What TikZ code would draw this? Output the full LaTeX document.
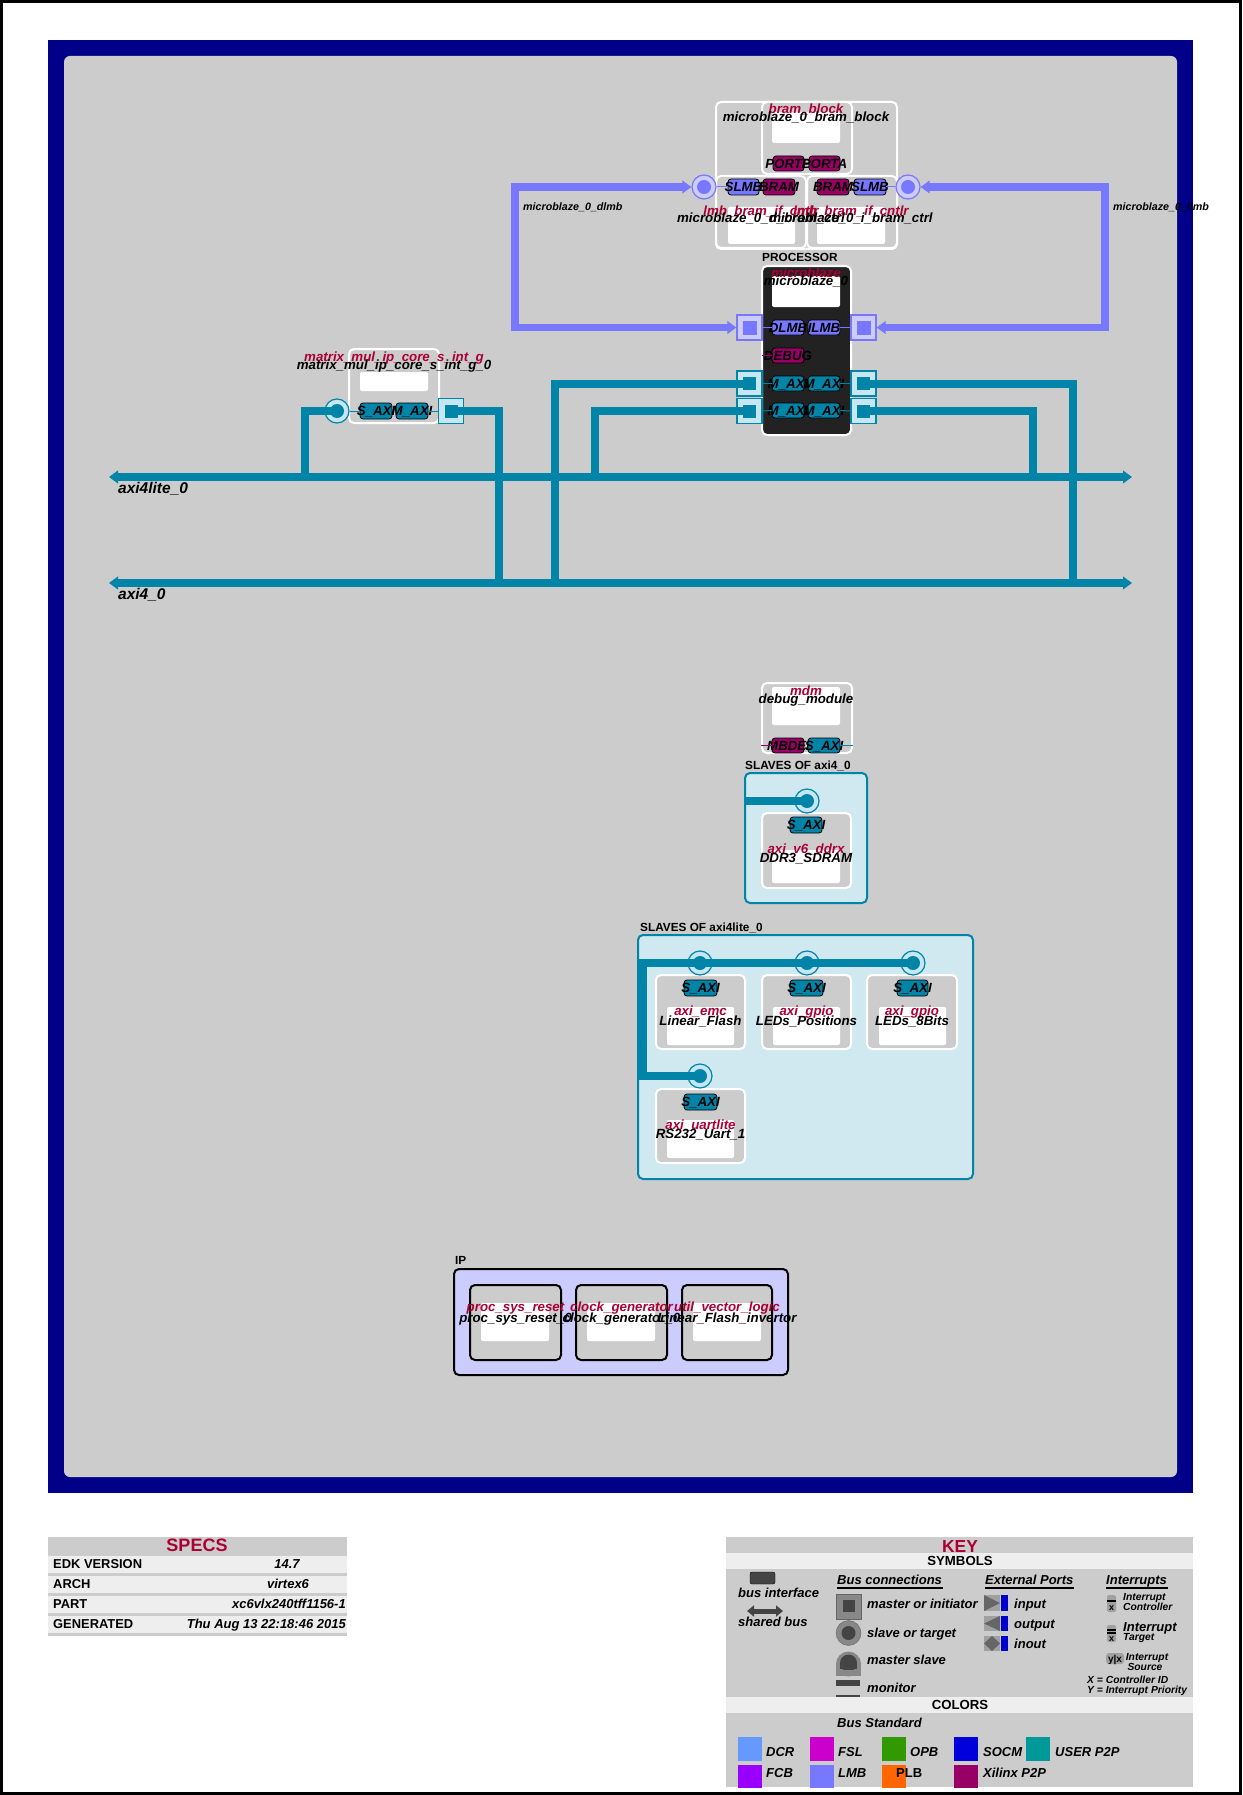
\documentclass[tikz,border=0pt]{standalone}
\usepackage{fontspec}
\setmainfont{Liberation Sans}
\usetikzlibrary{arrows.meta}
\definecolor{navy}{HTML}{000088}
\definecolor{bgray}{HTML}{CCCCCC}
\definecolor{axi}{HTML}{0084A8}
\definecolor{conlt}{HTML}{C6E6F2}
\definecolor{slvbg}{HTML}{D0E8F0}
\definecolor{lmb}{HTML}{7777FF}
\definecolor{lmblt}{HTML}{CCCCFF}
\definecolor{xptp}{HTML}{990066}
\definecolor{xred}{HTML}{AA0033}
\definecolor{procbg}{HTML}{222222}
\definecolor{ipbg}{HTML}{CCCCFF}
\definecolor{lightrow}{HTML}{EEEEEE}
\definecolor{kdark}{HTML}{444444}
\definecolor{kmid}{HTML}{666666}
\definecolor{kgray}{HTML}{888888}
\definecolor{kgrayb}{HTML}{A0A0A0}
\definecolor{kblue}{HTML}{0000CC}
\definecolor{cDCR}{HTML}{6699FF}
\definecolor{cFSL}{HTML}{CC00CC}
\definecolor{cOPB}{HTML}{339900}
\definecolor{cSOCM}{HTML}{0000DD}
\definecolor{cUSER}{HTML}{009999}
\definecolor{cFCB}{HTML}{9900FF}
\definecolor{cPLB}{HTML}{FF6600}
\newcommand\fsz[1]{\fontsize{#1}{#1}\selectfont}
\newcommand\rbox[6]{\path (#2,#3) -- (#4,#5) node[midway,inner sep=0,#6,minimum width={#4-#2},minimum height={#5-#3}] (#1) {};}
\newcommand\bif[7]{\rbox{#1}{#2}{#3}{#4}{#5}{bifbox,fill=#6}\node[biflbl] (#1t) at ([yshift=-4.8pt]#1.center) {#7};}
\tikzset{
  bt/.tip={Triangle[length=9pt,width=12.5pt]},
  bifbox/.style={draw=black,line width=0.8,rounded corners=3},
  biflbl/.style={anchor=base,inner sep=0,font=\bfseries\itshape\fsz{13.3}},
  blk/.style={draw=white,line width=2,fill=bgray,rounded corners=5},
  ipblk/.style={draw=black,line width=2,fill=bgray,rounded corners=5},
  wht/.style={fill=white,rounded corners=2},
  slvbox/.style={draw=axi,line width=2,fill=slvbg,rounded corners=5},
  ipbox/.style={draw=black,line width=2,fill=ipbg,rounded corners=5},
  tname/.style={anchor=base,inner sep=0,text=xred,font=\bfseries\itshape\fsz{13.3}},
  iname/.style={anchor=base,inner sep=0,text=black,font=\bfseries\itshape\fsz{13.3}},
  grp/.style={anchor=base west,inner sep=0,font=\bfseries\fsz{11.8}},
  buslbl/.style={anchor=base west,inner sep=0,font=\bfseries\itshape\fsz{15.5}},
  lmblbl/.style={anchor=base west,inner sep=0,font=\bfseries\itshape\fsz{10.7}},
  axiw/.style={draw=axi,line width=8,line join=miter},
  lmbw/.style={draw=lmb,line width=7.5,line join=miter},
  scon/.style={circle,minimum size=24,inner sep=0,fill=conlt,draw=axi,line width=1.2},
  mcon/.style={rectangle,minimum size=25,inner sep=0,fill=conlt,draw=axi,line width=1.2},
  lscon/.style={circle,minimum size=24,inner sep=0,fill=lmblt,draw=lmb,line width=1.2},
  lmcon/.style={rectangle,minimum size=25,inner sep=0,fill=lmblt,draw=lmb,line width=1.2},
  mdot/.style={rectangle,minimum size=13,inner sep=0,fill=axi},
  lmdot/.style={rectangle,minimum size=14,inner sep=0,fill=lmb},
  thinaxi/.style={draw=axi,line width=1},
  thinlmb/.style={draw=lmb,line width=1},
  thinxp/.style={draw=xptp,line width=1},
  kt/.style={anchor=base west,inner sep=0,font=\bfseries\itshape\fsz{13}},
  kts/.style={anchor=base west,inner sep=0,font=\bfseries\itshape\fsz{10.3}},
  kh/.style={anchor=base,inner sep=0,font=\bfseries\fsz{13.2}},
  st/.style={anchor=base west,inner sep=0,font=\bfseries\fsz{12.9}},
  sv/.style={anchor=base,inner sep=0,font=\bfseries\itshape\fsz{13}},
}
\begin{document}
\begin{tikzpicture}[x=1pt,y=-1pt]
\useasboundingbox (0,0) rectangle (1242,1795);
\fill[white] (0,0) rectangle (1242,1795);
\draw[black,line width=3] (1.5,1.5) rectangle (1240.5,1793.5);
\fill[navy] (48,40) rectangle (1193,1493);
\fill[bgray,rounded corners=6] (64,56) rectangle (1177,1477);

% ---------- containers
\rbox{slvA}{745}{773}{867}{903}{slvbox}
\node[grp] (slvAt) at (745,769.5) {SLAVES OF axi4\_0};
\rbox{slvB}{638}{935}{973}{1179}{slvbox}
\node[grp] (slvBt) at (640,931.5) {SLAVES OF axi4lite\_0};
\rbox{ipc}{454}{1269}{788}{1375}{ipbox}
\node[grp] (ipct) at (455,1264.5) {IP};

% ---------- blocks
\rbox{bgrp}{716}{102}{897}{249}{blk}
\rbox{bram}{762}{102}{852}{174}{blk}
\rbox{cl}{716}{176}{806}{248}{blk}
\rbox{cr}{807}{176}{897}{248}{blk}
\rbox{bramw}{772}{112}{840}{143}{wht}
\rbox{clw}{728}{207}{795}{244}{wht}
\rbox{crw}{817}{207}{885}{244}{wht}
\node[grp] (proct) at (762,261.5) {PROCESSOR};
\rbox{proc}{762}{266}{851}{435}{blk,fill=procbg}
\rbox{procw}{772}{276}{840}{307}{wht}
\rbox{mm}{349}{349}{439}{423}{blk}
\rbox{mmw}{360}{372}{428}{391}{wht}
\rbox{dbg}{762}{683}{852}{753}{blk}
\rbox{dbgw}{772}{687}{840}{725}{wht}
\rbox{ddr}{762}{813}{851}{888}{blk}
\rbox{ddrw}{772}{850}{840}{883}{wht}
\rbox{lf}{656}{975}{745}{1049}{blk}
\rbox{lfw}{667}{1007}{734}{1045}{wht}
\rbox{lp}{762}{975}{851}{1049}{blk}
\rbox{lpw}{773}{1007}{840}{1045}{wht}
\rbox{le}{867}{975}{957}{1049}{blk}
\rbox{lew}{879}{1007}{946}{1045}{wht}
\rbox{rs}{656}{1089}{745}{1163}{blk}
\rbox{rsw}{667}{1120}{734}{1158}{wht}
\rbox{psr}{470}{1285}{561}{1360}{ipblk}
\rbox{psrw}{481}{1303}{549}{1341}{wht}
\rbox{clk}{576}{1285}{667}{1360}{ipblk}
\rbox{clkw}{587}{1303}{655}{1341}{wht}
\rbox{uvl}{682}{1285}{772}{1360}{ipblk}
\rbox{uvlw}{693}{1303}{761}{1341}{wht}

% ---------- connectors
\node[scon] (mmS) at (337,411) {};
\node[mcon] (mmM) at (451,411) {};
\node[lmcon] (pDL) at (749.5,327.5) {};
\node[lmcon] (pIL) at (863.5,327.5) {};
\node[mcon] (pL1) at (749.5,383.5) {};
\node[mcon] (pL2) at (749.5,411) {};
\node[mcon] (pR1) at (863.5,383.5) {};
\node[mcon] (pR2) at (863.5,411) {};
\node[lscon] (lcL) at (704,187) {};
\node[lscon] (lcR) at (908,187) {};
\node[scon] (sDDR) at (807,801) {};
\node[scon] (sLF) at (700,963) {};
\node[scon] (sLP) at (807,963) {};
\node[scon] (sLE) at (913,963) {};
\node[scon] (sRS) at (700,1076) {};

% ---------- bus coordinates
\coordinate (a4lL) at (109,477); \coordinate (a4lR) at (1132,477);
\coordinate (a4L) at (109,583);  \coordinate (a4R) at (1132,583);
\coordinate (t1) at (305,477);
\coordinate (t2) at (499,583);
\coordinate (t3) at (555,583);
\coordinate (t4) at (595,477);
\coordinate (t5) at (1073,583);
\coordinate (t6) at (1033,477);
\coordinate (sAin) at (745,801);
\coordinate (sBk1) at (643,963);
\coordinate (sBk2) at (643,1076);
\coordinate (dk1) at (515,187); \coordinate (dk2) at (515,327.5);
\coordinate (ik1) at (1105,187); \coordinate (ik2) at (1105,327.5);

% ---------- wires
\draw[axiw] (mmS.center) -| (t1);
\draw[axiw] (mmM.center) -| (t2);
\draw[axiw] (pL1.center) -| (t3);
\draw[axiw] (pL2.center) -| (t4);
\draw[axiw] (pR1.center) -| (t5);
\draw[axiw] (pR2.center) -| (t6);
\draw[axiw,bt-bt] (a4lL) -- (a4lR);
\draw[axiw,bt-bt] (a4L) -- (a4R);
\draw[axiw] (sAin) -- (sDDR.center);
\draw[axiw] (sLE.center) -- (sBk1) -- (sBk2) -- (sRS.center);
\draw[lmbw,bt-bt] (lcL.west) -- (dk1) -- (dk2) -- (pDL.west);
\draw[lmbw,bt-bt] (lcR.east) -- (ik1) -- (ik2) -- (pIL.east);

% inner dots
\foreach \c in {mmS,sDDR,sLF,sLP,sLE,sRS} {\fill[axi] (\c.center) circle[radius=7pt];}
\foreach \c in {lcL,lcR} {\fill[lmb] (\c.center) circle[radius=7pt];}
\foreach \c in {mmM,pL1,pL2,pR1,pR2} {\node[mdot] (\c d) at (\c.center) {};}
\foreach \c in {pDL,pIL} {\node[lmdot] (\c d) at (\c.center) {};}

% ---------- bus interfaces
\bif{bPB}{773}{156}{804}{171}{xptp}{PORTB}
\bif{bPA}{809}{156}{840}{171}{xptp}{PORTA}
\bif{bSL}{728}{179}{759}{195}{lmb}{SLMB}
\bif{bBL}{763}{179}{795}{195}{xptp}{BRAM}
\bif{bBR}{817}{179}{849}{195}{xptp}{BRAM}
\bif{bSR}{854}{179}{886}{195}{lmb}{SLMB}
\bif{pbDL}{772}{320}{804}{335}{lmb}{DLMB}
\bif{pbIL}{808}{320}{840}{335}{lmb}{ILMB}
\bif{pbDB}{772}{348}{804}{363}{xptp}{DEBUG}
\bif{pbMa}{772}{376}{804}{391}{axi}{M\_AXI}
\bif{pbMb}{808}{376}{840}{391}{axi}{M\_AXI}
\bif{pbMc}{772}{403}{804}{418}{axi}{M\_AXI}
\bif{pbMd}{808}{403}{840}{418}{axi}{M\_AXI}
\bif{mbS}{360}{403}{392}{419}{axi}{S\_AXI}
\bif{mbM}{396}{403}{428}{419}{axi}{M\_AXI}
\rbox{dbM}{772}{738}{804}{753}{bifbox,fill=xptp}
\node[biflbl,anchor=base west] (dbMt) at (767,750.5) {MBDEBUG};
\bif{dbS}{808}{738}{840}{753}{axi}{S\_AXI}
\bif{ddS}{790}{817}{822}{833}{axi}{S\_AXI}
\bif{lfS}{684}{980}{717}{996}{axi}{S\_AXI}
\bif{lpS}{790}{980}{823}{996}{axi}{S\_AXI}
\bif{leS}{897}{980}{928}{996}{axi}{S\_AXI}
\bif{rsS}{684}{1094}{717}{1110}{axi}{S\_AXI}

% thin links connector -> interface
\draw[thinaxi] (mmS.east) -- (mbS.west);
\draw[thinaxi] (mbM.east) -- (mmM.west);
\draw[thinlmb] (pDL.east) -- (pbDL.west);
\draw[thinlmb] (pbIL.east) -- (pIL.west);
\draw[thinaxi] (pL1.east) -- (pbMa.west);
\draw[thinaxi] (pbMb.east) -- (pR1.west);
\draw[thinaxi] (pL2.east) -- (pbMc.west);
\draw[thinaxi] (pbMd.east) -- (pR2.west);
\draw[thinlmb] (lcL.east) -- (bSL.west);
\draw[thinlmb] (bSR.east) -- (lcR.west);
\coordinate (dbgIn) at (762,355.5);
\draw[thinxp] (dbgIn) -- (pbDB.west);
\coordinate (mdmIn) at (761,745.5);
\coordinate (mdmOut) at (853,745.5);
\draw[thinxp] (mdmIn) -- (dbM.west);
\draw[thinaxi] (dbS.east) -- (mdmOut);

% ---------- block labels
\node[tname] (l1) at (806,113.5) {bram\_block};
\node[iname] (l2) at (806,121.5) {microblaze\_0\_bram\_block};
\node[tname] (l3) at (761,215.5) {lmb\_bram\_if\_cntlr};
\node[tname] (l4) at (851,215.5) {lmb\_bram\_if\_cntlr};
\node[iname] (l5) at (761,222.5) {microblaze\_0\_d\_bram\_ctrl};
\node[iname] (l6) at (851,222.5) {microblaze\_0\_i\_bram\_ctrl};
\node[tname] (l7) at (806,277.5) {microblaze};
\node[iname] (l8) at (806,285.5) {microblaze\_0};
\node[tname] (l9) at (394,361.5) {matrix\_mul\_ip\_core\_s\_int\_g};
\node[iname] (l10) at (394,369.5) {matrix\_mul\_ip\_core\_s\_int\_g\_0};
\node[tname] (l11) at (806,695.5) {mdm};
\node[iname] (l12) at (806,703.5) {debug\_module};
\node[tname] (l13) at (806,853.5) {axi\_v6\_ddrx};
\node[iname] (l14) at (806,862.5) {DDR3\_SDRAM};
\node[tname] (l15) at (700.5,1015.5) {axi\_emc};
\node[iname] (l16) at (700.5,1025.5) {Linear\_Flash};
\node[tname] (l17) at (806.5,1015.5) {axi\_gpio};
\node[iname] (l18) at (806.5,1025.5) {LEDs\_Positions};
\node[tname] (l19) at (912,1015.5) {axi\_gpio};
\node[iname] (l20) at (912,1025.5) {LEDs\_8Bits};
\node[tname] (l21) at (700.5,1129.5) {axi\_uartlite};
\node[iname] (l22) at (700.5,1138.5) {RS232\_Uart\_1};
\node[tname] (l23) at (515.5,1311.5) {proc\_sys\_reset};
\node[tname] (l24) at (621.5,1311.5) {clock\_generator};
\node[tname] (l25) at (727,1311.5) {util\_vector\_logic};
\node[iname] (l26) at (515.5,1322.5) {proc\_sys\_reset\_0};
\node[iname] (l27) at (621.5,1322.5) {clock\_generator\_0};
\node[iname] (l28) at (727,1322.5) {Linear\_Flash\_invertor};

% bus labels
\node[buslbl] (bl1) at (118,493.5) {axi4lite\_0};
\node[buslbl] (bl2) at (118,599.5) {axi4\_0};
\node[lmblbl] (bl3) at (523,211) {microblaze\_0\_dlmb};
\node[lmblbl] (bl4) at (1113,211) {microblaze\_0\_ilmb};

% ---------- SPECS
\fill[bgray] (48,1537) rectangle (347,1554);
\fill[lightrow] (48,1554) rectangle (347,1636);
\foreach \y in {1553,1573,1593,1613,1633} {\fill[bgray] (48,\y) rectangle (347,\y+3);}
\node[anchor=base,inner sep=0,text=xred,font=\bfseries\fsz{18}] (specs) at (197,1551.5) {SPECS};
\node[st] (s1) at (53,1568.6) {EDK VERSION};
\node[st] (s2) at (53,1588.6) {ARCH};
\node[st] (s3) at (53,1608.6) {PART};
\node[st] (s4) at (53,1628.6) {GENERATED};
\node[sv] (v1) at (287,1568.6) {14.7};
\node[sv] (v2) at (288,1588.6) {virtex6};
\node[sv,anchor=base east] (v3) at (346,1608.6) {xc6vlx240tff1156-1};
\node[sv,anchor=base east] (v4) at (346,1628.6) {Thu Aug 13 22:18:46 2015};

% ---------- KEY
\fill[bgray] (726,1537) rectangle (1193,1787);
\fill[lightrow] (726,1553) rectangle (1193,1569);
\fill[lightrow] (726,1697) rectangle (1193,1713);
\node[anchor=base,inner sep=0,text=xred,font=\bfseries\fsz{17.4}] (keyt) at (960,1552) {KEY};
\node[kh] (symt) at (960,1565.7) {SYMBOLS};
\node[kh] (colt) at (960,1709.2) {COLORS};
% bus interface / shared bus
\draw[black,fill=kdark,rounded corners=2] (750,1572) rectangle (775,1584);
\node[kt] (k1) at (738,1597.5) {bus interface};
\coordinate (sbL) at (747,1611); \coordinate (sbR) at (783,1611);
\draw[kdark,line width=5,{Triangle[length=7pt,width=11pt]}-{Triangle[length=7pt,width=11pt]}] (sbL) -- (sbR);
\node[kt] (k2) at (738,1626.5) {shared bus};
% headers
\node[kt] (kbc) at (837,1584.5) {Bus connections};
\draw[black,line width=1.3] (837,1588) -- (943,1588);
\node[kt] (kep) at (985,1584.5) {External Ports};
\draw[black,line width=1.3] (985,1588) -- (1074,1588);
\node[kt] (kin) at (1106,1584.5) {Interrupts};
\draw[black,line width=1.3] (1106,1588) -- (1168,1588);
% bus connection icons
\draw[kmid,fill=kgray] (836,1594) rectangle (861,1619);
\fill[kdark] (843,1600) rectangle (855,1612);
\node[kt] (k3) at (867,1608.5) {master or initiator};
\draw[kmid,fill=kgray] (848.5,1633) circle[radius=12.5pt];
\fill[kdark] (848.5,1633) circle[radius=7pt];
\node[kt] (k4) at (867,1637.5) {slave or target};
\fill[kgray] (836,1664) rectangle (861,1676);
\fill[kgray] (848.5,1664) circle[radius=12.5pt];
\begin{scope}
\clip (830,1640) rectangle (870,1669);
\fill[kdark] (848.5,1663) circle[radius=8.5pt];
\fill[kdark] (840,1663) rectangle (857,1669);
\end{scope}
\node[kt] (k5) at (867,1664.5) {master slave};
\fill[kdark] (836,1680) rectangle (860,1686);
\fill[kdark] (836,1694.5) rectangle (860,1696.5);
\node[kt] (k6) at (867,1692.5) {monitor};
% external ports
\fill[kgrayb] (984,1595) rectangle (1000,1611);
\fill[kmid] (984,1595) -- (1000,1603) -- (984,1611) -- cycle;
\fill[kblue] (1001,1595) rectangle (1008,1611);
\node[kt] (k7) at (1014,1608.5) {input};
\fill[kgrayb] (984,1616) rectangle (1000,1631);
\fill[kmid] (1000,1616) -- (984,1623.5) -- (1000,1631) -- cycle;
\fill[kblue] (1001,1616) rectangle (1008,1631);
\node[kt] (k8) at (1014,1628.5) {output};
\fill[kgrayb] (984,1636) rectangle (1000,1651);
\fill[kmid] (992,1636) -- (1000,1643.5) -- (992,1651) -- (984,1643.5) -- cycle;
\fill[kblue] (1001,1636) rectangle (1008,1651);
\node[kt] (k9) at (1014,1648.5) {inout};
% interrupts
\fill[kgrayb,rounded corners=2] (1107,1595) rectangle (1116,1612);
\draw[black,line width=1.6] (1107,1601) -- (1116,1601);
\node[anchor=base,inner sep=0,font=\bfseries\fsz{9}] (ix1) at (1111.5,1610.5) {x};
\node[kts] (k10) at (1123,1600.5) {Interrupt};
\node[kts] (k11) at (1123,1610.5) {Controller};
\fill[kgrayb,rounded corners=2] (1107,1625) rectangle (1116,1642);
\draw[black,line width=1.2] (1107,1630) -- (1116,1630);
\draw[black,line width=1.2] (1107,1633) -- (1116,1633);
\node[anchor=base,inner sep=0,font=\bfseries\fsz{9}] (ix2) at (1111.5,1641) {x};
\node[kt] (k12) at (1123,1631.5) {Interrupt};
\node[kts] (k13) at (1123,1640.5) {Target};
\fill[kgrayb,rounded corners=3] (1106,1653) rectangle (1124,1664);
\node[anchor=base,inner sep=0,font=\bfseries\fsz{10}] (ix3) at (1115,1662) {y|x};
\node[kts,anchor=base] (k14) at (1147,1660.5) {Interrupt};
\node[kts,anchor=base] (k15) at (1145,1670.5) {Source};
\node[kts] (k16) at (1087,1683) {X = Controller ID};
\node[kts] (k17) at (1087,1693) {Y = Interrupt Priority};
% colors
\node[kt] (k18) at (837,1727.5) {Bus Standard};
\fill[cDCR] (738,1737) rectangle (762,1761);
\fill[cFSL] (810,1737) rectangle (834,1761);
\fill[cOPB] (882,1737) rectangle (906,1761);
\fill[cSOCM] (954,1737) rectangle (978,1761);
\fill[cUSER] (1026,1737) rectangle (1050,1761);
\fill[cFCB] (738,1765) rectangle (762,1788);
\fill[lmb] (810,1765) rectangle (834,1788);
\fill[cPLB] (882,1765) rectangle (906,1788);
\fill[xptp] (954,1765) rectangle (978,1788);
\node[kt] (c1) at (766,1756.5) {DCR};
\node[kt] (c2) at (838,1756.5) {FSL};
\node[kt] (c3) at (910,1756.5) {OPB};
\node[kt] (c4) at (983,1756.5) {SOCM};
\node[kt] (c5) at (1055,1756.5) {USER P2P};
\node[kt] (c6) at (766,1777.5) {FCB};
\node[kt] (c7) at (838,1777.5) {LMB};
\node[kt,font=\bfseries\fsz{13}] (c8) at (896,1777.5) {PLB};
\node[kt] (c9) at (983,1777.5) {Xilinx P2P};
\end{tikzpicture}
\end{document}
